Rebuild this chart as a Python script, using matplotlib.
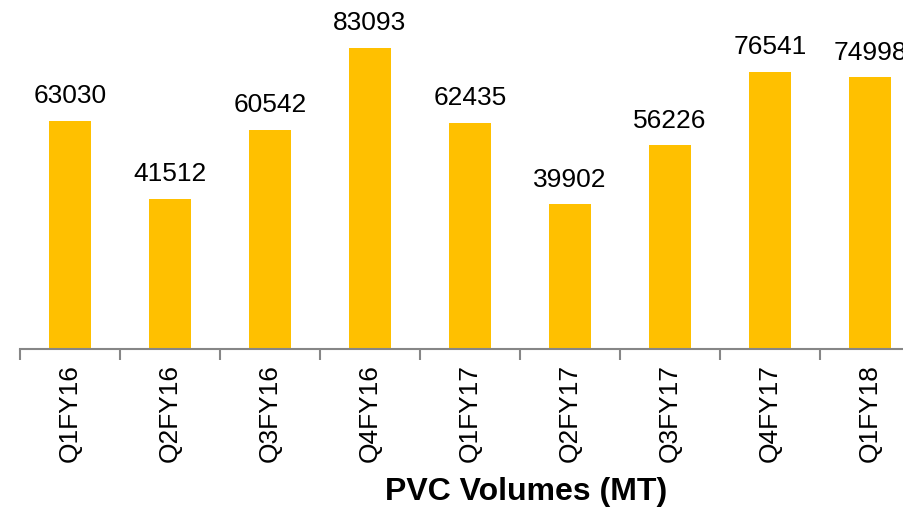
import matplotlib.pyplot as plt
import numpy as np

plt.rcParams['font.family'] = ['Liberation Sans', 'DejaVu Sans']

quarters = ['Q1FY16', 'Q2FY16', 'Q3FY16', 'Q4FY16', 'Q1FY17',
            'Q2FY17', 'Q3FY17', 'Q4FY17', 'Q1FY18']
volumes = [63030, 41512, 60542, 83093, 62435, 39902, 56226, 76541, 74998]

W, H = 904, 509
fig = plt.figure(figsize=(W / 100, H / 100), dpi=100)
# axes runs past the right edge, like the original (last bar is clipped)
ax = fig.add_axes([20 / W, 160 / H, 900 / W, 326 / H])

x = np.arange(len(quarters))
ax.bar(x, volumes, width=0.42, color='#FFC000')
for xi, v in zip(x, volumes):
    ax.text(xi, v + 3500, str(v), ha='center', va='bottom', fontsize=19,
            color='#000000')

ax.set_xlim(-0.5, len(quarters) - 0.5)
ax.set_ylim(0, 90000)
ax.set_xticks(x)
ax.set_xticklabels(quarters, rotation=90, fontsize=19)
ax.set_xticks(np.arange(-0.5, len(quarters), 1.0), minor=True)
ax.tick_params(axis='x', which='major', length=0, pad=11)
ax.tick_params(axis='x', which='minor', length=8, width=1.5, color='#868686')
ax.set_yticks([])
for s in ['top', 'right', 'left']:
    ax.spines[s].set_visible(False)
ax.spines['bottom'].set_color('#868686')
ax.spines['bottom'].set_linewidth(1.5)

fig.text(526 / W, 1 - 492 / H, 'PVC Volumes (MT)', ha='center', va='center',
         fontsize=23, fontweight='bold')

fig.savefig('out.png', dpi=100)
